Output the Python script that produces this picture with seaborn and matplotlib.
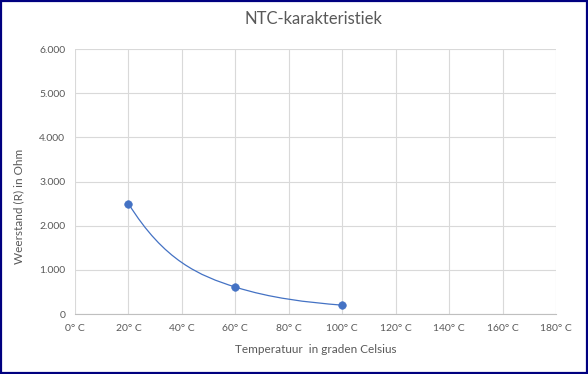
import numpy as np
import pandas as pd
import seaborn as sns
import matplotlib.pyplot as plt
from matplotlib.path import Path
from matplotlib.patches import PathPatch, Rectangle
from matplotlib.ticker import FuncFormatter

# Data
temperatuur = [20, 60, 100]
weerstand = [2500, 610, 200]
x_ticks = [0, 20, 40, 60, 80, 100, 120, 140, 160, 180]
y_ticks = [0, 1000, 2000, 3000, 4000, 5000, 6000]

df = pd.DataFrame({'Temperatuur': temperatuur, 'Weerstand': weerstand})

sns.set_style("white")
plt.rcParams['font.family'] = ['Lato', 'DejaVu Sans']

fig = plt.figure(figsize=(5.88, 3.74), dpi=100)
ax = fig.add_axes([75 / 588, 1 - 314 / 374, (556 - 75) / 588, (314 - 49) / 374])

blue = '#4472C4'
grey_text = '#595959'

# smoothed line: Hermite curve drawn as Bezier path, slopes taken from log(R)
x = np.array(temperatuur, dtype=float)
y = np.array(weerstand, dtype=float)
ly = np.log(y)
h = np.diff(x)
d = np.diff(ly) / h
m = np.zeros(len(x))
m[1:-1] = 2 / (1 / d[:-1] + 1 / d[1:])
m[0] = ((2 * h[0] + h[1]) * d[0] - h[0] * d[1]) / (h[0] + h[1])
m[-1] = ((2 * h[-1] + h[-2]) * d[-1] - h[-1] * d[-2]) / (h[-1] + h[-2])
slope = m * y
verts = [(x[0], y[0])]
codes = [Path.MOVETO]
for i in range(len(x) - 1):
    verts += [(x[i] + h[i] / 3, y[i] + slope[i] * h[i] / 3),
              (x[i + 1] - h[i] / 3, y[i + 1] - slope[i + 1] * h[i] / 3),
              (x[i + 1], y[i + 1])]
    codes += [Path.CURVE4] * 3
ax.add_patch(PathPatch(Path(verts, codes), facecolor='none', edgecolor=blue, lw=0.9, zorder=3))

sns.scatterplot(data=df, x='Temperatuur', y='Weerstand', ax=ax, color=blue,
                s=30, edgecolor=blue, zorder=4)

ax.set_xlim(0, 180)
ax.set_ylim(0, 6000)
ax.set_xticks(x_ticks)
ax.set_yticks(y_ticks)
ax.xaxis.set_major_formatter(FuncFormatter(lambda v, p: f"{int(v)}° C"))
ax.yaxis.set_major_formatter(FuncFormatter(lambda v, p: f"{int(v):,}".replace(',', '.')))
ax.grid(True, color='#d9d9d9', lw=0.8)
ax.set_axisbelow(True)
for s in ['top', 'right', 'left']:
    ax.spines[s].set_visible(False)
ax.spines['bottom'].set_color('#bfbfbf')
ax.tick_params(axis='both', length=0, labelsize=7.5, colors=grey_text, pad=7)

ax.set_xlabel("Temperatuur  in graden Celsius", fontsize=8.5, color=grey_text, labelpad=8)
ax.set_ylabel("Weerstand (R) in Ohm", fontsize=8.5, color=grey_text, labelpad=9)
ax.yaxis.set_label_coords(-0.105, (314 - 206) / 265)
fig.text(313 / 588, 1 - 19 / 374, "NTC-karakteristiek", ha='center', va='center',
         fontsize=12, color=grey_text)

fig.patches.append(Rectangle((0.002, 0.003), 0.996, 0.994, transform=fig.transFigure,
                             fill=False, edgecolor='#000080', lw=1.6))

fig.savefig('out.png', dpi=100)
